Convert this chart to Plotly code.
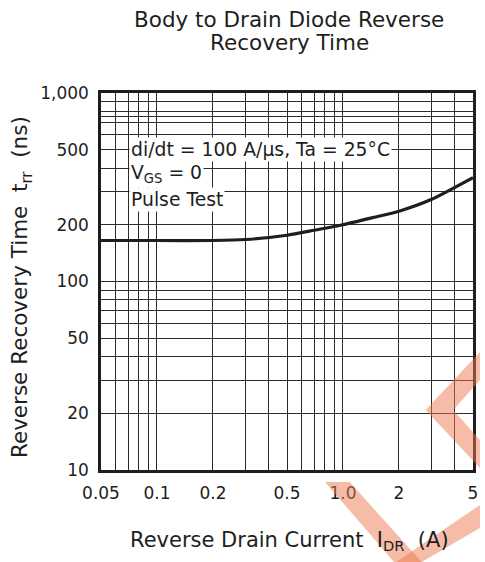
import plotly.graph_objects as go

# ---- data ----
current_A = [0.05, 0.1, 0.2, 0.3, 0.5, 0.7, 1.0, 1.5, 2.0, 3.0, 4.0, 5.0]
trr_ns = [165, 165, 165, 167, 176, 187, 200, 220, 236, 273, 316, 355]

x_grid = [0.05, 0.06, 0.07, 0.08, 0.09, 0.1, 0.2, 0.3, 0.4, 0.5, 0.6, 0.7, 0.8, 0.9, 1, 2, 3, 4, 5]
x_labels = ["0.05", "", "", "", "", "0.1", "0.2", "", "", "0.5", "", "", "", "", "1.0", "2", "", "", "5"]
y_grid = [10, 20, 30, 40, 50, 60, 70, 80, 90, 100, 200, 300, 400, 500, 600, 700, 750, 800, 900, 1000]
y_labels = ["10", "20", "", "", "50", "", "", "", "", "100", "200", "", "", "500", "", "", "", "", "", "1,000"]

title_lines = ["Body to Drain Diode Reverse", "Recovery Time"]
note_lines = ["di/dt = 100 A/\u03bcs, Ta = 25\u00b0C", "V<sub>GS</sub> = 0", "Pulse Test"]
x_title = "Reverse Drain Current\u00a0\u00a0I<sub>DR</sub>\u00a0\u00a0(A)"
y_title = "Reverse Recovery Time\u00a0\u00a0t<sub>rr</sub>\u00a0\u00a0(ns)"

# ---- layout geometry (pixels) ----
W, H = 485, 562
L, R, T, B = 101, 478, 93, 470
PW, PH = R - L, B - T
FONT = "DejaVu Sans"
INK = "#1e1e1e"


def px(xp):
    return (xp - L) / PW


def py(yp):
    return (B - yp) / PH


def poly(points):
    return "M " + " L ".join(f"{px(a):.4f},{py(b):.4f}" for a, b in points) + " Z"


fig = go.Figure()
fig.add_trace(go.Scatter(x=current_A, y=trr_ns, mode="lines",
                         line=dict(color=INK, width=3.2, shape="spline", smoothing=0.6),
                         hoverinfo="skip", showlegend=False))

fig.update_xaxes(type="log", range=[-1.30103, 0.69897], tickmode="array",
                 tickvals=x_grid, ticktext=x_labels, ticks="",
                 showgrid=True, gridcolor="#2b2b2b", gridwidth=1,
                 showline=True, linecolor=INK, linewidth=2.5, mirror=True,
                 tickfont=dict(family=FONT, size=17, color=INK),
                 ticklabelstandoff=6, zeroline=False)
fig.update_yaxes(type="log", range=[1, 3], tickmode="array",
                 tickvals=y_grid, ticktext=y_labels, ticks="",
                 showgrid=True, gridcolor="#2b2b2b", gridwidth=1,
                 showline=True, linecolor=INK, linewidth=2.5, mirror=True,
                 tickfont=dict(family=FONT, size=17, color=INK),
                 ticklabelstandoff=6, zeroline=False)

ann = []
# title
ann.append(dict(text=title_lines[0], x=px(292), y=py(19), xref="paper", yref="paper",
                xanchor="center", yanchor="middle", showarrow=False,
                font=dict(family=FONT, size=21.5, color=INK)))
ann.append(dict(text=title_lines[1], x=px(292), y=py(42), xref="paper", yref="paper",
                xanchor="center", yanchor="middle", showarrow=False,
                font=dict(family=FONT, size=21.5, color=INK)))
# notes with white background
for txt, yc in zip(note_lines, [149, 174, 199]):
    ann.append(dict(text=txt, x=px(129), y=py(yc), xref="paper", yref="paper",
                    xanchor="left", yanchor="middle", showarrow=False,
                    bgcolor="white", borderpad=1,
                    font=dict(family=FONT, size=18.8, color=INK)))
# axis titles
ann.append(dict(text=x_title, x=px(292), y=py(541), xref="paper", yref="paper",
                xanchor="center", yanchor="middle", showarrow=False,
                font=dict(family=FONT, size=21, color=INK)))
ann.append(dict(text=y_title, x=px(20), y=py(287), xref="paper", yref="paper",
                xanchor="center", yanchor="middle", showarrow=False, textangle=-90,
                font=dict(family=FONT, size=21.5, color=INK)))

# faint watermark stripes (lower right)
wm = dict(type="path", xref="paper", yref="paper", fillcolor="#ee7a50",
          line=dict(width=0), opacity=0.5, layer="above")
shapes = [
    dict(wm, path=poly([(328, 482), (353, 482), (426, 562), (398, 562)])),
    dict(wm, path=poly([(400, 562), (426, 562), (485, 528), (485, 505)])),
    dict(wm, path=poly([(485, 352), (430, 410), (485, 468), (485, 440), (458, 410), (485, 380)])),
]

fig.update_layout(width=W, height=H, margin=dict(l=L, r=W - R, t=T, b=H - B),
                  paper_bgcolor="white", plot_bgcolor="white",
                  annotations=ann, shapes=shapes, showlegend=False)

fig.write_html("out.html")
